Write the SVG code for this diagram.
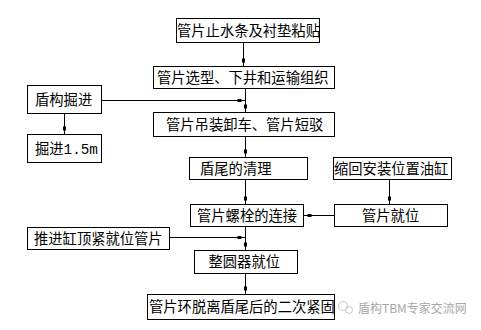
<svg xmlns="http://www.w3.org/2000/svg" width="481" height="330" viewBox="0 0 481 330">
<style>
.box rect{fill:#fff;stroke:#000;stroke-width:1}
.box text{font-family:"Noto Sans CJK SC","Liberation Sans",sans-serif;font-size:14.3px;fill:#000}
.mono{font-family:"Liberation Mono",monospace}
#connectors line{stroke:#000;stroke-width:1;marker-end:url(#m)}
.wm{font-family:"Noto Sans CJK SC","Liberation Sans",sans-serif;font-size:12px;fill:#a8a8a8}
</style>
<defs>
<marker id="m" markerUnits="userSpaceOnUse" markerWidth="20" markerHeight="20" refX="10" refY="10" orient="auto">
<rect x="2" y="8.5" width="4" height="3" fill="#000"/>
</marker>
</defs>
<rect width="481" height="330" fill="#fff"/>
<g id="connectors">
<line x1="243.5" y1="42.5" x2="243.5" y2="66.5"/>
<line x1="245.5" y1="88.5" x2="245.5" y2="112.5"/>
<line x1="101.5" y1="100.5" x2="245.5" y2="100.5"/>
<line x1="64.5" y1="113.5" x2="64.5" y2="134.5"/>
<line x1="245.5" y1="136.5" x2="245.5" y2="157.5"/>
<line x1="245.5" y1="179.5" x2="245.5" y2="204.5"/>
<line x1="389.5" y1="179.5" x2="389.5" y2="204.5"/>
<line x1="334.5" y1="215.5" x2="303.5" y2="215.5"/>
<line x1="169.5" y1="237.5" x2="245.5" y2="237.5"/>
<line x1="245.5" y1="226.5" x2="245.5" y2="250.5"/>
<line x1="245.5" y1="273.5" x2="245.5" y2="294.5"/>
</g>
<g id="n1" class="box"><rect x="176.5" y="18.5" width="143" height="24"/><text x="177" y="35.5">管片止水条及衬垫粘贴</text></g>
<g id="n2" class="box"><rect x="153.5" y="66.5" width="181" height="22"/><text x="157" y="82.5">管片选型、下井和运输组织</text></g>
<g id="n3" class="box"><rect x="27.5" y="85.5" width="74" height="28"/><text x="35" y="104.5">盾构掘进</text></g>
<g id="n4" class="box"><rect x="153.5" y="112.5" width="181" height="24"/><text x="166" y="129.5">管片吊装卸车、管片短驳</text></g>
<g id="n5" class="box"><rect x="27.5" y="134.5" width="74" height="28"/><text x="35" y="153.5">掘进<tspan class="mono">1.5m</tspan></text></g>
<g id="n6" class="box"><rect x="189.5" y="157.5" width="118" height="22"/><text x="200" y="173.5">盾尾的清理</text></g>
<g id="n7" class="box"><rect x="333.5" y="157.5" width="118" height="22"/><text x="334" y="173.5">缩回安装位置油缸</text></g>
<g id="n8" class="box"><rect x="190.5" y="204.5" width="113" height="22"/><text x="197" y="220.5">管片螺栓的连接</text></g>
<g id="n9" class="box"><rect x="334.5" y="204.5" width="113" height="22"/><text x="362" y="220.5">管片就位</text></g>
<g id="n10" class="box"><rect x="27.5" y="227.5" width="142" height="22"/><text x="34" y="243.5">推进缸顶紧就位管片</text></g>
<g id="n11" class="box"><rect x="194.5" y="250.5" width="103" height="23"/><text x="208.5" y="267">整圆器就位</text></g>
<g id="n12" class="box"><rect x="147.5" y="294.5" width="187" height="25"/><text x="149" y="312">管片环脱离盾尾后的二次紧固</text></g>
<g id="watermark">
<circle cx="343" cy="306" r="4.5" fill="none" stroke="#c8c8c8" stroke-width="1"/>
<circle cx="349" cy="310" r="3.5" fill="none" stroke="#c8c8c8" stroke-width="1"/>
<text class="wm" x="358" y="313">盾构TBM专家交流网</text>
</g>
</svg>
